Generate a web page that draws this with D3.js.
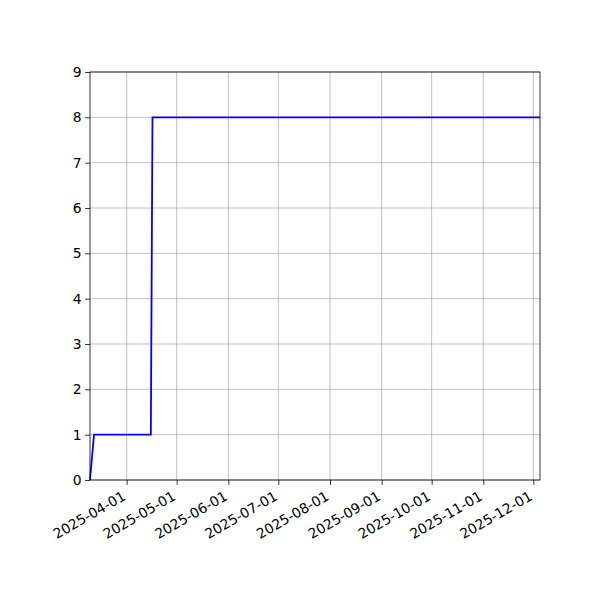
<!DOCTYPE html>
<html><head><meta charset="utf-8">
<script src="https://cdn.jsdelivr.net/npm/d3@7"></script>
<style>body{margin:0;background:#fff}svg{display:block}text{font-family:"DejaVu Sans",sans-serif}</style>
</head><body><svg id="c" width="600" height="600"></svg>
<script>
const dates = ["2025-03-10T00:00","2025-03-12T10:00","2025-04-15T12:00","2025-04-16T12:00","2025-12-05T00:00"];
const values = [0, 1, 1, 8, 8];
const xDomain = ["2025-03-10T00:00","2025-12-05T00:00"];
const xTicks = ["2025-04-01","2025-05-01","2025-06-01","2025-07-01","2025-08-01","2025-09-01","2025-10-01","2025-11-01","2025-12-01"];
const yTicks = [0,1,2,3,4,5,6,7,8,9];

const svg = d3.select("#c");
const L=90,R=540,T=72,B=480;
const x = d3.scaleTime().domain(xDomain.map(d=>new Date(d))).range([L,R]);
const y = d3.scaleLinear().domain([0,9]).range([B,T]);
const tickDates = xTicks.map(d=>new Date(d+"T00:00"));
const fmt = d3.timeFormat("%Y-%m-%d");

// grid
const g = svg.append("g");
g.selectAll(".gx").data(tickDates).enter().append("line")
 .attr("x1",d=>x(d)).attr("x2",d=>x(d)).attr("y1",T).attr("y2",B)
 .attr("stroke","#b0b0b0").attr("stroke-width",0.8);
g.selectAll(".gy").data(yTicks).enter().append("line")
 .attr("x1",L).attr("x2",R).attr("y1",d=>y(d)).attr("y2",d=>y(d))
 .attr("stroke","#b0b0b0").attr("stroke-width",0.8);

// line
const pts = dates.map((d,i)=>[new Date(d), values[i]]);
svg.append("path").datum(pts)
 .attr("d", d3.line().x(d=>x(d[0])).y(d=>y(d[1])))
 .attr("fill","none").attr("stroke","#0000ff").attr("stroke-width",1.8);

// axes
const xa = svg.append("g").attr("transform",`translate(0,${B})`)
 .call(d3.axisBottom(x).tickValues(tickDates).tickFormat(fmt).tickSize(4.9).tickPadding(3.5));
xa.select(".domain").remove();
xa.selectAll("line").attr("stroke","#000").attr("stroke-width",0.8);
xa.selectAll("text").attr("font-size","13.9px").attr("fill","#000")
 .attr("text-anchor","end").attr("dy",null).attr("y",null)
 .attr("transform","translate(-0.5,19) rotate(-30)");

const ya = svg.append("g").attr("transform",`translate(${L},0)`)
 .call(d3.axisLeft(y).tickValues(yTicks).tickFormat(d3.format("d")).tickSize(4.9).tickPadding(3.5));
ya.select(".domain").remove();
ya.selectAll("line").attr("stroke","#000").attr("stroke-width",0.8);
ya.selectAll("text").attr("font-size","13.9px").attr("fill","#000");

svg.append("rect").attr("x",L).attr("y",T).attr("width",R-L).attr("height",B-T)
 .attr("fill","none").attr("stroke","#000").attr("stroke-width",0.8);
</script></body></html>
